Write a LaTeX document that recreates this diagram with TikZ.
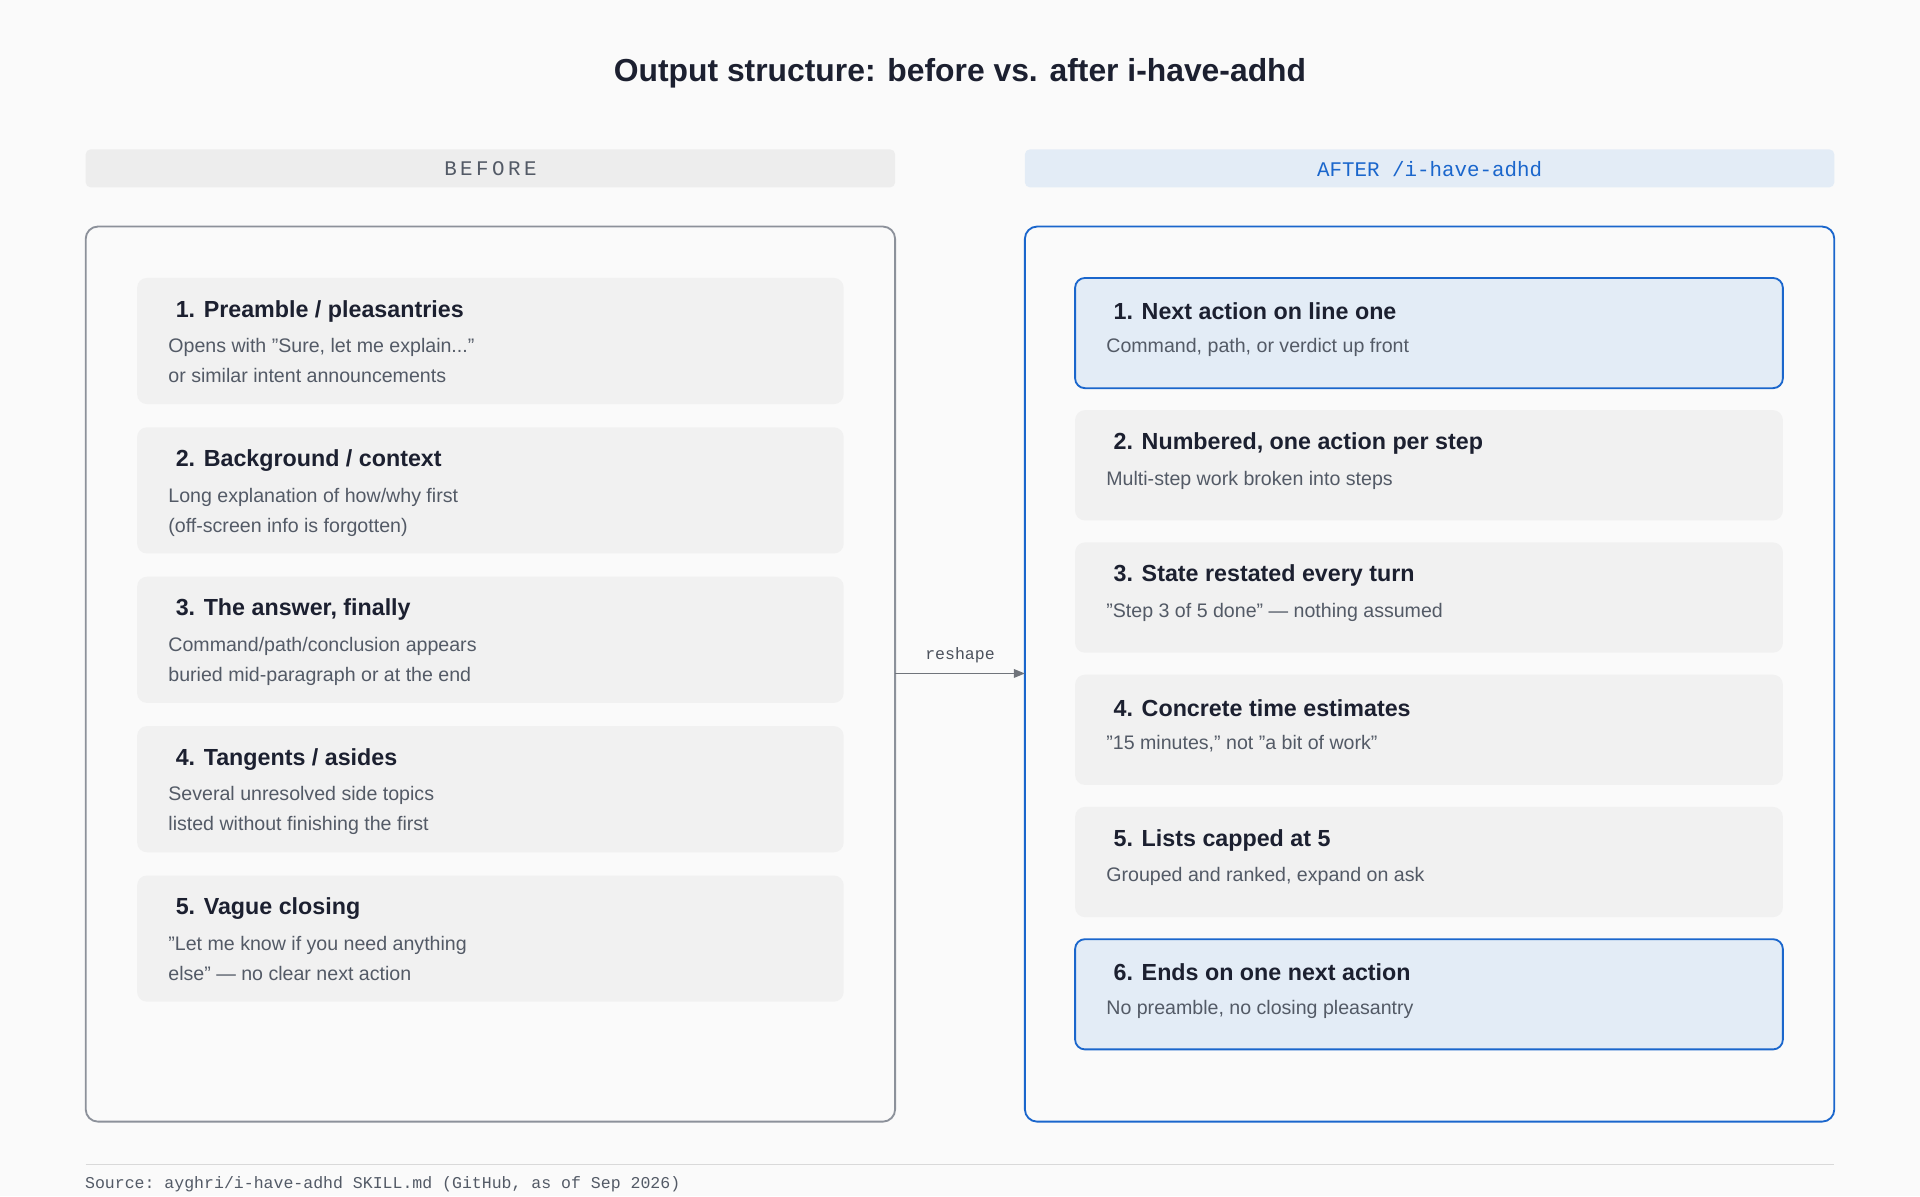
\documentclass[tikz,border=0pt]{standalone}
\usepackage{fontspec}
\setmainfont{Liberation Sans}
\setmonofont{Liberation Mono}
\usetikzlibrary{arrows.meta}
\definecolor{bg}{HTML}{FAFAFA}
\definecolor{ink}{HTML}{1C2030}
\definecolor{sub}{HTML}{535A66}
\definecolor{card}{HTML}{F1F1F1}
\definecolor{hl}{HTML}{E3ECF6}
\definecolor{blue}{HTML}{1A66CC}
\definecolor{lgray}{HTML}{8C919A}
\tikzset{
 x=1pt,y=-1pt,
 panel/.style={rounded corners=10pt,line width=1.5pt},
 cardL/.style={fill=card,rounded corners=8pt,draw=none},
 cardH/.style={fill=hl,draw=blue,line width=1.5pt,rounded corners=8pt},
 ttl/.style={anchor=west,text=ink,font=\fontsize{19}{22}\selectfont\bfseries},
 txt/.style={anchor=north west,text=sub,align=left,font=\fontsize{16}{24.5}\selectfont},
 bar/.style={rounded corners=4pt,draw=none},
}
\begin{document}
\begin{tikzpicture}
\fill[bg] (0,0) rectangle (1568,977);
\useasboundingbox (0,0) rectangle (1568,977);
\node[text=ink,font=\fontsize{26}{30}\selectfont\bfseries] (title) at (784,60) {Output structure: before vs. after i-have-adhd};
\fill[bar,fill=black!7] (70,122) rectangle (731,153);
\node[text=sub,font=\fontsize{17}{20}\ttfamily] (lb) at (400.5,138) {B\,E\,F\,O\,R\,E};
\fill[bar,fill=hl] (837,122) rectangle (1498,153);
\node[text=blue,font=\fontsize{17}{20}\ttfamily] (la) at (1167.5,138) {AFTER /i-have-adhd};
\draw[panel,draw=lgray,fill=bg] (70,185) rectangle (731,916);
\draw[panel,draw=blue,fill=bg] (837,185) rectangle (1498,916);
% left cards
\foreach \y/\t/\a/\b [count=\i] in {
227/{1. Preamble / pleasantries}/{Opens with "Sure, let me explain..."}/{or similar intent announcements},
349/{2. Background / context}/{Long explanation of how/why first}/{(off-screen info is forgotten)},
471/{3. The answer, finally}/{Command/path/conclusion appears}/{buried mid-paragraph or at the end},
593/{4. Tangents / asides}/{Several unresolved side topics}/{listed without finishing the first},
715/{5. Vague closing}/{"Let me know if you need anything}/{else" — no clear next action}}{
 \fill[cardL] (112,\y) rectangle (689,\y+103);
 \node[ttl] (lt\i) at (140,\y+27) {\t};
 \node[txt] (ls\i) at (134,\y+46) {\a\\\b};
}
% right cards
\foreach \y/\s/\t/\a [count=\i] in {
227/cardH/{1. Next action on line one}/{Command, path, or verdict up front},
335/cardL/{2. Numbered, one action per step}/{Multi-step work broken into steps},
443/cardL/{3. State restated every turn}/{"Step 3 of 5 done" — nothing assumed},
551/cardL/{4. Concrete time estimates}/{"15 minutes," not "a bit of work"},
659/cardL/{5. Lists capped at 5}/{Grouped and ranked, expand on ask},
767/cardH/{6. Ends on one next action}/{No preamble, no closing pleasantry}}{
 \draw[\s] (878,\y) rectangle (1456,\y+90);
 \node[ttl] (rt\i) at (906,\y+27) {\t};
 \node[txt] (rs\i) at (900,\y+46) {\a};
}
\coordinate (src) at (731,550);
\coordinate (dst) at (837,550);
\draw[lgray!80!black,line width=1.3pt,-{Triangle[length=9pt,width=7pt]}] (src) -- (dst);
\node[text=sub!90!black,font=\fontsize{13.5}{16}\ttfamily] (rl) at (784,535) {reshape};
\draw[black!15,line width=1pt] (70,951) -- (1498,951);
\node[anchor=west,text=sub,font=\fontsize{13.5}{16}\ttfamily] (srcl) at (66,967) {Source: ayghri/i-have-adhd SKILL.md (GitHub, as of Sep 2026)};
\end{tikzpicture}
\end{document}
